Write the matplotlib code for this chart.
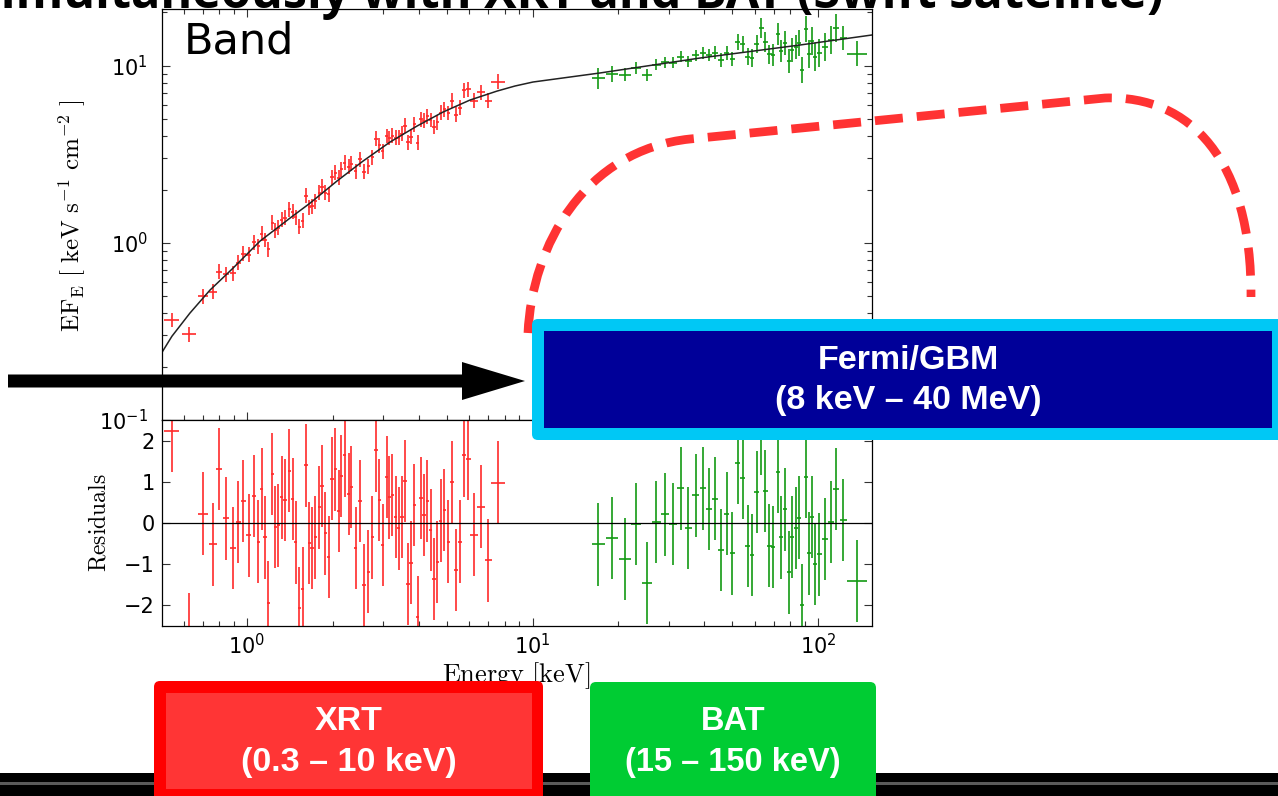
import numpy as np
import matplotlib
matplotlib.use('Agg')
import matplotlib.pyplot as plt
from matplotlib.patches import FancyBboxPatch, Rectangle, PathPatch, FancyArrow
from matplotlib.path import Path

plt.rcParams['mathtext.fontset'] = 'cm'

# ---- XRT (red) data: energy [keV], E*F_E, residual, half bin width [dex]
xrt_e = [0.545, 0.628, 0.703, 0.758, 0.800, 0.844, 0.891, 0.933, 0.971, 1.013,
         1.058, 1.096, 1.126, 1.156, 1.188, 1.227, 1.257, 1.287, 1.323, 1.359,
         1.406, 1.445, 1.481, 1.525, 1.567, 1.609, 1.653, 1.689, 1.735, 1.792,
         1.831, 1.881, 1.932, 1.985, 2.039, 2.095, 2.139, 2.198, 2.270, 2.320,
         2.403, 2.488, 2.569, 2.660, 2.747, 2.830, 2.906, 2.987, 3.085, 3.151,
         3.227, 3.317, 3.398, 3.490, 3.576, 3.664, 3.753, 3.855, 3.961, 4.068,
         4.168, 4.281, 4.399, 4.519, 4.641, 4.770, 4.910, 5.070, 5.220, 5.400,
         5.570, 5.750, 5.960, 6.240, 6.590, 7.000, 7.590]
xrt_flux = [0.367, 0.304, 0.500, 0.531, 0.689, 0.666, 0.675, 0.772, 0.868, 0.858,
            1.009, 0.957, 1.126, 1.038, 0.920, 1.297, 1.180, 1.219, 1.349, 1.386,
            1.549, 1.499, 1.393, 1.235, 1.336, 1.848, 1.587, 1.612, 1.714, 1.919,
            2.077, 1.924, 1.884, 2.350, 2.486, 2.335, 2.602, 2.828, 2.684, 2.805,
            2.535, 2.958, 2.522, 2.708, 3.048, 3.869, 3.550, 3.292, 4.012, 3.909,
            4.034, 3.930, 3.915, 4.124, 4.594, 3.687, 3.966, 4.667, 3.668, 4.981,
            4.884, 5.170, 4.940, 4.505, 4.802, 5.420, 5.692, 5.405, 6.360, 5.279,
            5.782, 7.250, 7.376, 6.336, 7.100, 6.345, 8.100]
xrt_resid = [2.24, -2.70, 0.23, -0.52, 1.31, 0.11, -0.61, 0.02, 0.54, -0.30,
             0.66, -0.45, 0.82, -0.35, -1.93, 1.19, -0.09, -0.06, 0.62, 0.56,
             1.27, 0.58, -0.47, -2.07, -1.59, 1.40, -0.49, -0.61, -0.35, 0.38,
             0.90, -0.25, -0.82, 1.08, 1.30, 0.29, 1.14, 1.64, 0.70, 0.88,
             -0.61, 0.53, -1.50, -1.18, -0.35, 1.76, 0.56, -0.53, 1.12, 0.62,
             0.68, 0.15, -0.13, 0.14, 1.02, -1.48, -0.96, 0.44, -2.29, 0.60,
             0.19, 0.54, -0.17, -1.36, -0.94, 0.06, 0.32, -0.45, 1.00, -1.14,
             -0.45, 1.64, 1.55, -0.28, 0.40, -0.91, 0.98]
xrt_dlog = [0.026, 0.025, 0.0175, 0.014, 0.011, 0.010, 0.010, 0.009, 0.009, 0.008,
            0.006, 0.006, 0.006, 0.006, 0.006, 0.006, 0.006, 0.006, 0.006, 0.006,
            0.006, 0.006, 0.006, 0.006, 0.006, 0.006, 0.006, 0.006, 0.006, 0.006,
            0.006, 0.006, 0.006, 0.006, 0.006, 0.006, 0.006, 0.006, 0.006, 0.006,
            0.006, 0.006, 0.006, 0.006, 0.006, 0.006, 0.006, 0.006, 0.006, 0.006,
            0.006, 0.006, 0.006, 0.006, 0.006, 0.006, 0.006, 0.006, 0.006, 0.006,
            0.006, 0.006, 0.006, 0.006, 0.006, 0.006, 0.006, 0.006, 0.006, 0.006,
            0.006, 0.006, 0.008, 0.014, 0.014, 0.013, 0.025]
xrt_sig = 0.042   # flux error [dex]

# ---- BAT (green) data
bat_e = [17.0, 19.0, 21.1, 23.1, 25.1, 27.1, 29.0, 31.1, 33.0, 35.1,
         37.3, 39.4, 41.5, 43.5, 45.6, 47.9, 50.0, 52.3, 54.5, 56.7,
         58.7, 61.0, 63.3, 65.4, 67.5, 69.8, 72.3, 74.4, 76.8, 79.1,
         81.3, 83.5, 86.0, 88.1, 90.8, 93.0, 95.5, 97.6, 101.0, 105.8,
         110.8, 115.9, 122.7, 137.3]
bat_flux = [8.47, 8.99, 8.88, 9.75, 8.87, 10.13, 10.43, 10.42, 11.24, 10.63,
            11.42, 11.77, 11.43, 11.83, 10.77, 11.75, 10.87, 13.66, 13.28, 11.24,
            11.01, 13.28, 16.27, 13.68, 11.58, 11.54, 15.10, 12.09, 13.49, 10.69,
            12.30, 12.82, 13.44, 9.42, 16.04, 11.67, 13.81, 11.27, 11.87, 12.82,
            13.97, 16.33, 14.39, 11.72]
bat_resid = [-0.52, -0.36, -0.88, -0.02, -1.46, 0.02, 0.21, -0.02, 0.84, -0.12,
             0.67, 0.84, 0.34, 0.59, -0.66, 0.23, -0.74, 1.45, 1.09, -0.56,
             -0.78, 0.75, 2.17, 0.78, -0.55, -0.58, 1.25, -0.35, 0.33, -1.20,
             -0.34, -0.12, 0.13, -2.00, 1.11, -0.74, 0.14, -1.00, -0.76, -0.39,
             0.02, 0.82, 0.07, -1.41]
bat_dlog = [0.0235, 0.020, 0.020, 0.0175, 0.0175, 0.016, 0.014, 0.014, 0.012, 0.012,
            0.012, 0.0105, 0.0105, 0.0105, 0.0105, 0.009, 0.009, 0.009, 0.009, 0.009,
            0.008, 0.008, 0.008, 0.008, 0.008, 0.007, 0.007, 0.007, 0.007, 0.007,
            0.007, 0.007, 0.007, 0.007, 0.007, 0.007, 0.007, 0.007, 0.009, 0.0105,
            0.0105, 0.0105, 0.012, 0.035]
bat_sig = [0.060, 0.047, 0.037, 0.034, 0.034, 0.031, 0.031, 0.031, 0.031, 0.031,
           0.031, 0.034, 0.034, 0.037, 0.037, 0.040, 0.040, 0.045, 0.045, 0.048,
           0.051, 0.051, 0.056, 0.056, 0.056, 0.062, 0.062, 0.062, 0.068, 0.068,
           0.068, 0.068, 0.073, 0.073, 0.073, 0.079, 0.079, 0.079, 0.079, 0.079,
           0.079, 0.079, 0.068, 0.068]

# ---- Band model curve
model_e = [0.504, 0.546, 0.631, 0.742, 0.893, 1.11, 1.414, 1.663, 2.065, 2.549, 3.17,
           3.939, 4.859, 6.04, 7.51, 8.68, 10.04, 17.24, 38.6, 86.5, 154.5]
model_f = [0.241, 0.297, 0.401, 0.541, 0.719, 1.022, 1.379, 1.676, 2.232, 2.894, 3.707,
           4.564, 5.475, 6.40, 7.19, 7.68, 8.09, 9.10, 11.05, 13.09, 14.91]

RED = '#ff2a2a'
GREEN = '#139a13'


def log_err(v, d):
    v = np.asarray(v)
    d = np.asarray(d)
    return [v - v * 10 ** (-d), v * 10 ** d - v]


def draw_set(ax, axr, e, f, r, dlog, sig, col):
    xe = log_err(e, dlog)
    ax.errorbar(e, f, xerr=xe, yerr=log_err(f, sig), fmt='none',
                ecolor=col, elinewidth=1.2, capsize=0)
    axr.errorbar(e, r, xerr=xe, yerr=1.0, fmt='none',
                 ecolor=col, elinewidth=1.2, capsize=0)


W, H = 1278, 796
fig = plt.figure(figsize=(W / 100, H / 100), dpi=100)
ax = fig.add_axes([162 / W, 1 - 420 / H, 710 / W, 411 / H])
axr = fig.add_axes([162 / W, 1 - 626 / H, 710 / W, 206 / H], sharex=ax)

draw_set(ax, axr, xrt_e, xrt_flux, xrt_resid, xrt_dlog, xrt_sig, RED)
draw_set(ax, axr, bat_e, bat_flux, bat_resid, bat_dlog, bat_sig, GREEN)
ax.plot(model_e, model_f, color='#222222', lw=1.1)
axr.axhline(0, color='black', lw=0.9)

ax.set_xscale('log')
ax.set_yscale('log')
ax.set_xlim(0.504, 154.5)
ax.set_ylim(0.1, 20.9)
axr.set_ylim(-2.5, 2.5)
axr.set_yticks([-2, -1, 0, 1, 2])

for a in (ax, axr):
    a.tick_params(which='both', direction='in', top=True, right=True,
                  labelsize=15, color='#333333')
    a.tick_params(which='major', length=6, width=0.8)
    a.tick_params(which='minor', length=3.5, width=0.8)
    for s in a.spines.values():
        s.set_linewidth(0.9)
ax.tick_params(axis='x', labelbottom=False)
ax.tick_params(axis='y', pad=10)
axr.tick_params(axis='x', which='both', top=False, pad=5)
axr.tick_params(axis='y', which='minor', left=False, right=False)
axr.tick_params(axis='y', pad=5)

ax.text(22 / 710, 0.892, 'Band', transform=ax.transAxes, fontsize=31,
        va='baseline', ha='left')
ax.set_ylabel(r'$\mathrm{EF_E}\ [\ \mathrm{keV\ s^{-1}\ cm^{-2}}\ ]$', fontsize=18)
ax.yaxis.set_label_coords(-0.104, 0.496)
axr.set_ylabel(r'$\mathrm{Residuals}$', fontsize=17)
axr.yaxis.set_label_coords(-0.073, 0.5)
axr.set_xlabel(r'$\mathrm{Energy\ [keV]}$', fontsize=19)
axr.xaxis.set_label_coords(0.4986, -0.165)

# ---- slide overlay in pixel coordinates
ov = fig.add_axes([0, 0, 1, 1])
ov.set_zorder(10)
ov.set_xlim(0, W)
ov.set_ylim(H, 0)
ov.axis('off')

ov.text(1163, 8, 'Simultaneously with XRT and BAT (Swift satellite)',
        ha='right', va='baseline', fontsize=35, fontweight='bold',
        family='Open Sans', color='black')

# dashed GBM coverage curve
verts = [(528, 333), (532, 245), (585, 150), (690, 139),
         (1105, 98),
         (1190, 95), (1252, 160), (1251, 297)]
codes = [Path.MOVETO, Path.CURVE4, Path.CURVE4, Path.CURVE4,
         Path.LINETO,
         Path.CURVE4, Path.CURVE4, Path.CURVE4]
ov.add_patch(PathPatch(Path(verts, codes), fill=False, edgecolor='#ff3333',
                       lw=6.3, ls=(0, (3.2, 1.6)), capstyle='butt'))

ov.add_patch(FancyArrow(8, 381, 517, 0, width=13, head_width=38, head_length=63,
                        length_includes_head=True, color='black', lw=0))


def box(x0, y0, x1, y1, col, r=6):
    ov.add_patch(FancyBboxPatch((x0, y0), x1 - x0, y1 - y0,
                                boxstyle=f'round,pad=0,rounding_size={r}',
                                facecolor=col, edgecolor='none'))


box(532, 319, 1284, 440, '#00c8f5')
box(544, 331, 1272, 428, '#000099', r=0)
lab = dict(color='white', fontweight='bold', family='Liberation Sans',
           ha='center', va='center')
ov.text(908, 360, 'Fermi/GBM', fontsize=24.5, **lab)
ov.text(908, 401, '(8 keV \u2013 40 MeV)', fontsize=24.5, **lab)

# bottom bar with its grey rule
ov.add_patch(Rectangle((0, 773), W, 30, facecolor='black', edgecolor='none'))
ov.add_patch(Rectangle((0, 782), W, 3, facecolor='#5a5a5a', edgecolor='none'))

box(154, 681, 543, 810, '#ff0000')
box(166, 693, 532, 789, '#ff3535', r=0)
ov.text(349, 722, 'XRT', fontsize=24.5, **lab)
ov.text(349, 762, '(0.3 \u2013 10 keV)', fontsize=24.5, **lab)

box(590, 682, 876, 810, '#00cc33')
ov.text(733, 722, 'BAT', fontsize=23.5, **lab)
ov.text(733, 762, '(15 \u2013 150 keV)', fontsize=23.5, **lab)

fig.savefig('out.png', dpi=100)
